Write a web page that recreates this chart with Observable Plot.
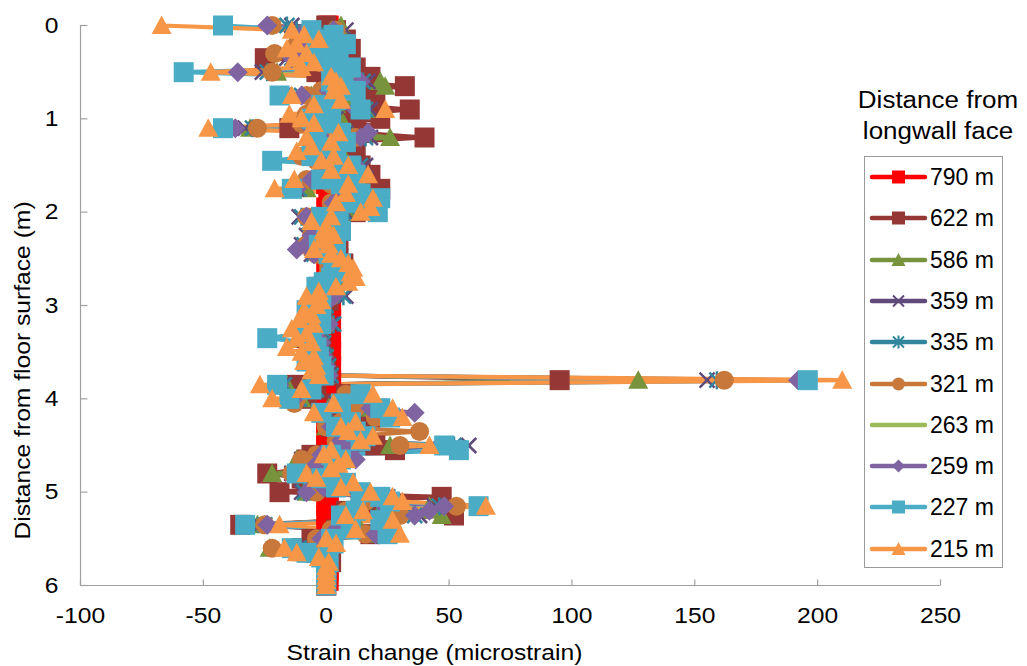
<!DOCTYPE html>
<html><head><meta charset="utf-8">
<script src="https://cdn.jsdelivr.net/npm/d3@7"></script>
<script src="https://cdn.jsdelivr.net/npm/@observablehq/plot@0.6"></script>
<style>
body{margin:0;background:#fff;}
#wrap{position:relative;width:1027px;height:666px;font-family:Arial,"Liberation Sans",sans-serif;color:#000;}
#wrap svg.plot{position:absolute;left:0;top:0;}
.lg{position:absolute;}
</style></head><body><div id="wrap"></div>
<script>
// ---------- data ----------
const depths = [
0,0.05,0.1,0.15,0.2,0.25,0.3,0.35,0.4,0.45,0.5,0.55,0.6,0.65,0.7,0.75,0.8,0.85,0.9,0.95,
1,1.05,1.1,1.15,1.2,1.25,1.3,1.35,1.4,1.45,1.5,1.55,1.6,1.65,1.7,1.75,1.8,1.85,1.9,1.95,
2,2.05,2.1,2.15,2.2,2.25,2.3,2.35,2.4,2.45,2.5,2.55,2.6,2.65,2.7,2.75,2.8,2.85,2.9,2.95,
3,3.05,3.1,3.15,3.2,3.25,3.3,3.35,3.4,3.45,3.5,3.55,3.6,3.65,3.7,3.75,3.8,3.85,3.9,3.95,
4,4.05,4.1,4.15,4.2,4.25,4.3,4.35,4.4,4.45,4.5,4.55,4.6,4.65,4.7,4.75,4.8,4.85,4.9,4.95,
5,5.05,5.1,5.15,5.2,5.25,5.3,5.35,5.4,5.45,5.5,5.55,5.6,5.65,5.7,5.75,5.8,5.85,5.9,5.95,
6];

const s790 = [
1,0,2,1,3,2,1,2,3,1,2,1,0,1,2,1,0,1,2,1,
1,0,1,2,1,0,1,1,2,1,0,1,2,1,0,1,1,2,1,0,
1,2,1,0,1,1,2,1,0,1,1,2,1,0,1,2,1,1,0,1,
2,1,1,2,1,0,1,2,1,1,2,1,1,2,1,1,2,1,2,1,
1,0,1,2,1,0,1,1,0,1,0,1,1,0,1,0,1,1,0,1,
0,1,1,0,1,0,1,1,0,1,0,1,0,1,0,1,0,1,0,1,
0];
const s622 = [
0,4,-2,8,-6,10,2,-25,6,12,-4,18,8,32,14,4,20,10,34,12,
22,6,-15,14,40,8,4,12,2,8,14,6,18,4,12,22,8,16,10,14,
12,4,6,2,6,3,5,1,4,2,5,7,5,6,4,2,-3,0,-2,1,
-1,-4,-2,-5,-1,-3,-6,-8,-3,-2,-4,-1,-3,0,-2,1,95,-12,-4,8,
-8,4,12,0,18,6,2,8,10,6,20,28,-6,-8,2,-10,-24,-10,-4,-2,
-19,47,14,20,8,52,10,-35,4,18,-6,2,-10,-4,0,2,0,0,0,0,
0];
const s586 = [
6,2,-4,6,-8,4,-2,-10,2,6,-20,10,22,24,8,-6,10,4,16,-4,
6,-8,-31,10,26,4,-2,6,-4,2,8,4,14,0,8,-8,12,16,6,12,
10,-6,4,0,3,-2,1,-4,2,-2,4,6,5,4,3,0,-4,-1,-3,-2,
-2,-6,-3,-5,-2,-4,-8,-10,-4,-3,-5,-2,-4,-1,-3,0,127,-16,-6,10,
-10,2,14,-2,22,8,0,6,12,4,26,8,-4,-12,-6,-2,-22,-6,2,-4,
-8,20,24,42,10,47,12,-28,6,22,-4,0,-23,-10,-2,1,0,0,0,0,
0];
const s359 = [
-14,8,-6,3,-10,6,-4,-16,0,8,-26,6,17,12,2,-12,6,0,18,-6,
4,-6,-33,8,18,2,-4,4,-8,0,16,2,10,-6,6,-12,10,14,4,10,
8,-11,2,-6,0,-8,-2,-10,-4,-6,2,4,2,3,1,-1,-2,0,8,-2,
-1,-4,-2,-3,2,-3,-6,-8,-2,-5,-4,-1,-3,0,-2,1,155,-18,-5,12,
-12,4,16,0,24,8,2,10,14,6,58,10,-2,-10,-4,0,-14,-4,4,-2,
-10,24,20,44,12,38,10,-27,4,20,-2,1,-12,-6,-1,0,0,0,0,0,
0];
const s335 = [
-16,-12,-4,4,-8,5,-3,-14,1,7,-24,5,15,10,3,-10,5,1,16,-5,
3,-5,-30,7,16,3,-3,5,-7,1,14,3,11,-5,5,-11,9,13,5,9,
7,-10,3,-5,1,-7,-1,-9,-3,-5,3,5,3,4,2,0,-2,1,7,-1,
0,-3,-1,-2,3,-2,-5,-7,-1,-4,-3,0,-2,1,-1,2,159,-17,-4,13,
-11,5,17,1,25,9,3,11,15,7,52,11,-1,-9,-3,1,-13,-3,5,-1,
-9,25,21,46,13,36,11,-25,5,21,-1,2,-11,-5,0,1,0,0,0,0,
0];
const s321 = [
-22,4,-8,2,-12,-4,-21,-8,-2,4,-22,3,12,8,-2,-8,2,-4,14,-8,
2,-10,-28,4,12,-2,-6,2,-10,-4,10,0,8,-8,2,-14,6,10,2,6,
4,-8,0,-4,-2,-6,-3,-8,-6,-4,0,2,1,2,0,-2,-3,-1,2,-3,
-2,-5,-3,-4,0,-4,-7,-9,-3,-5,-5,-2,-4,-1,-3,0,162,-20,-8,8,
-12,-13,12,-2,20,6,0,38,10,4,30,6,-4,-10,-6,-2,-14,-6,2,3,
-4,18,16,53,8,30,6,-25,2,16,-4,0,-22,-8,-2,0,0,0,0,0,
0];
const s263 = [
-5,6,-6,4,-9,2,-6,-12,0,6,-18,8,16,12,4,-6,8,2,15,-2,
4,-4,-22,8,18,4,-2,6,-4,2,12,4,12,-2,6,-6,10,14,6,10,
8,-6,3,-2,2,-4,0,-6,-2,-3,3,5,4,4,2,0,-2,0,4,-1,
-1,-4,-2,-3,1,-3,-5,-7,-2,-3,-3,-1,-2,0,-2,1,178,-15,-5,10,
-10,3,14,0,22,7,1,9,13,5,40,8,-2,-8,-4,0,-12,-4,4,0,
-6,22,20,40,10,34,8,-22,4,18,-2,1,-14,-6,-1,0,0,0,0,0,
0];
const s259 = [
-24,3,-10,4,-6,0,-8,-14,-2,4,-36,6,14,9,1,-10,4,-2,12,-6,
0,-8,-37,17,14,0,-4,3,-8,-2,12,1,10,-6,4,-12,8,12,3,8,
6,-8,1,-4,0,-6,-4,-8,-12,-5,1,3,2,3,1,-1,-3,0,3,-2,
-1,-5,-2,-4,1,-3,-6,-8,-2,-4,-4,-1,-3,0,-2,1,192,-19,-6,14,
-13,4,18,36,26,9,2,10,15,6,46,10,-2,12,-4,0,-12,-4,4,-1,
-8,24,22,48,42,36,10,-24,4,20,-2,1,-12,-6,-1,0,0,0,0,0,
0];
const s227 = [
-42,-6,3,-4,8,-2,5,-6,2,10,-58,6,2,7,12,-19,4,-2,14,2,
-6,0,-42,6,-4,8,2,4,-6,-22,10,3,12,-2,6,-14,14,22,10,17,
21,-2,5,3,6,0,2,-3,4,1,3,6,4,3,2,-1,-4,-2,-4,-3,
-2,-8,-3,-6,-2,-6,-10,-24,-6,-4,-6,-3,-8,-2,-4,-1,196,-20,-6,14,
-15,6,22,-2,26,10,4,12,16,14,48,54,2,6,4,3,-12,-2,8,4,
14,22,26,62,12,6,22,-33,10,25,2,3,-14,-8,-2,1,0,0,0,0,
0];
const s215 = [
-67,-14,-9,-3,-12,-16,-8,-13,-5,-10,-47,2,4,6,3,-14,6,-5,24,-15,
-10,-5,-48,5,-8,2,-6,-12,3,-2,9,2,17,-13,9,-21,8,19,4,18,
14,2,-6,0,-1,3,-2,1,-5,2,6,9,11,10,12,9,4,-3,-8,-2,
-4,-9,-6,-11,-5,-14,-8,-12,-6,-16,-10,-5,-9,-4,-6,-3,210,-27,-10,19,
-22,3,27,-5,31,12,6,9,19,14,42,2,-1,8,5,2,-8,-4,11,6,
18,27,31,65,15,8,27,-19,12,30,0,4,-17,-12,-3,1,0,0,0,0,
0];

const seriesNames = ["790 m","622 m","586 m","359 m","335 m","321 m","263 m","259 m","227 m","215 m"];
const seriesValues = [s790,s622,s586,s359,s335,s321,s263,s259,s227,s215];
const seriesColors = ["#FF0000","#953735","#77933C","#604A7B","#31859C","#C8783A","#9BBB59","#8064A2","#4BACC6","#F79646"];
const seriesMarkers = ["square","square","triangle","times","star","circle","none","diamond","square","triangle"];

const xTicks = [-100,-50,0,50,100,150,200,250];
const yTicks = [0,1,2,3,4,5,6];
const xTitle = "Strain change (microstrain)";
const yTitle = "Distance from floor surface (m)";
const legendTitle = ["Distance from","longwall face"];

// ---------- symbols ----------
function makeSymbol(kind, h) {
  return {draw(c) {
    if (kind === "square") { c.rect(-h, -h, 2*h, 2*h); }
    else if (kind === "triangle") { c.moveTo(0, -h); c.lineTo(h, h*0.85); c.lineTo(-h, h*0.85); c.closePath(); }
    else if (kind === "diamond") { c.moveTo(0, -h); c.lineTo(h, 0); c.lineTo(0, h); c.lineTo(-h, 0); c.closePath(); }
    else if (kind === "circle") { c.moveTo(h, 0); c.arc(0, 0, h, 0, 2*Math.PI); }
    else if (kind === "times") { c.moveTo(-h, -h); c.lineTo(h, h); c.moveTo(h, -h); c.lineTo(-h, h); }
    else if (kind === "star") { c.moveTo(-h, -h); c.lineTo(h, h); c.moveTo(h, -h); c.lineTo(-h, h); c.moveTo(0, -h*1.2); c.lineTo(0, h*1.2); }
  }};
}
const tickUp = {draw(c){ c.moveTo(0,0); c.lineTo(0,-6); }};
const tickRight = {draw(c){ c.moveTo(0,0); c.lineTo(7,0); }};
const markerHalf = {square: 10, triangle: 10, diamond: 10, circle: 9.5, times: 7.5, star: 7.5};

// ---------- table ----------
const rows = [];
seriesNames.forEach((name, k) => {
  seriesValues[k].forEach((v, i) => rows.push({series: name, depth: depths[i], strain: v}));
});

const lineMarks = seriesNames.map((name, k) =>
  Plot.line(rows.filter(d => d.series === name), {
    x: "strain", y: "depth", stroke: seriesColors[k], strokeWidth: 4.2,
    strokeLinejoin: "round", strokeLinecap: "round"
  })
);
const dotMarks = [];
seriesNames.forEach((name, k) => {
  const m = seriesMarkers[k];
  if (m === "none") return;
  const sym = makeSymbol(m, markerHalf[m]);
  const outline = (m === "times" || m === "star");
  dotMarks.push(Plot.dot(rows.filter(d => d.series === name), {
    x: "strain", y: "depth", symbol: sym, r: 5,
    fill: outline ? "none" : seriesColors[k],
    stroke: outline ? seriesColors[k] : "none",
    strokeWidth: outline ? 2.5 : 0
  }));
});

const axisColor = "#A0A0A0";
const FS = 22;
const chart = Plot.plot({
  width: 1027, height: 666,
  marginLeft: 80, marginRight: 87, marginTop: 25, marginBottom: 81,
  x: {domain: [-100, 250], axis: null},
  y: {domain: [0, 6], reverse: true, axis: null},
  style: {fontFamily: 'Arial, "Liberation Sans", sans-serif', fontSize: FS + "px", background: "transparent", overflow: "visible"},
  marks: [
    Plot.ruleX([-100], {y1: 0, y2: 6, stroke: axisColor, strokeWidth: 1.2}),
    Plot.ruleY([6], {x1: -100, x2: 250, stroke: axisColor, strokeWidth: 1.2}),
    Plot.dot(xTicks, {x: d => d, y: d => 6, symbol: tickUp, fill: "none", stroke: axisColor, strokeWidth: 1.2}),
    Plot.dot(yTicks, {x: d => -100, y: d => d, symbol: tickRight, fill: "none", stroke: axisColor, strokeWidth: 1.2}),
    ...lineMarks,
    ...dotMarks,
    Plot.text(xTicks, {x: d => d, y: d => 6, dy: 30, text: d => String(d), fill: "#000", fontSize: FS}),
    Plot.text(yTicks, {x: d => -100, y: d => d, dx: -22, textAnchor: "end", text: d => String(d), fill: "#000", fontSize: FS}),
    Plot.text([xTitle], {frameAnchor: "bottom", textAnchor: "middle", lineAnchor: "middle", dx: -76, dy: 67, text: d => d, fill: "#000", fontSize: FS}),
    Plot.text([yTitle], {frameAnchor: "left", textAnchor: "middle", lineAnchor: "middle", rotate: -90, dx: -58, dy: 65, text: d => d, fill: "#000", fontSize: FS})
  ]
});
chart.classList.add("plot");
const wrap = document.getElementById("wrap");
wrap.appendChild(chart);

// widen the axis text glyphs slightly (the reference lettering is broad)
chart.querySelectorAll("text").forEach(t => {
  const w = t.getComputedTextLength();
  if (w > 0) { t.setAttribute("textLength", (w * 1.12).toFixed(1)); t.setAttribute("lengthAdjust", "spacingAndGlyphs"); }
});

// ---------- legend ----------
const title = document.createElement("div");
title.className = "lg";
Object.assign(title.style, {left: "838px", top: "85px", width: "200px", textAlign: "center", fontSize: "23px", lineHeight: "31px", transform: "scaleX(1.13)", transformOrigin: "50% 50%"});
title.innerHTML = legendTitle.join("<br>");
wrap.appendChild(title);

const box = document.createElement("div");
box.className = "lg";
Object.assign(box.style, {left: "864px", top: "156px", width: "139px", height: "412px", border: "1px solid #9a9a9a", boxSizing: "border-box"});
wrap.appendChild(box);

const legendHalf = {square: 6.5, triangle: 7, diamond: 6.5, circle: 6.5, times: 5.5, star: 5.5};
seriesNames.forEach((name, k) => {
  const cy = 177 + 41.3 * k;
  const svg = d3.create("svg").attr("width", 62).attr("height", 24)
    .attr("class", "lg").style("left", "868px").style("top", (cy - 12) + "px");
  svg.append("line").attr("x1", 4).attr("x2", 57).attr("y1", 12).attr("y2", 12)
    .attr("stroke", seriesColors[k]).attr("stroke-width", 4.5).attr("stroke-linecap", "round");
  const m = seriesMarkers[k];
  if (m !== "none") {
    const p = d3.path();
    makeSymbol(m, legendHalf[m]).draw(p);
    const outline = (m === "times" || m === "star");
    svg.append("path").attr("d", p.toString()).attr("transform", "translate(30.5,12)")
      .attr("fill", outline ? "none" : seriesColors[k])
      .attr("stroke", outline ? seriesColors[k] : "none")
      .attr("stroke-width", outline ? 2 : 0);
  }
  wrap.appendChild(svg.node());
  const t = document.createElement("div");
  t.className = "lg";
  Object.assign(t.style, {left: "930px", top: (cy - 13) + "px", fontSize: "23px", lineHeight: "26px", whiteSpace: "nowrap"});
  t.textContent = name;
  wrap.appendChild(t);
});
</script></body></html>
